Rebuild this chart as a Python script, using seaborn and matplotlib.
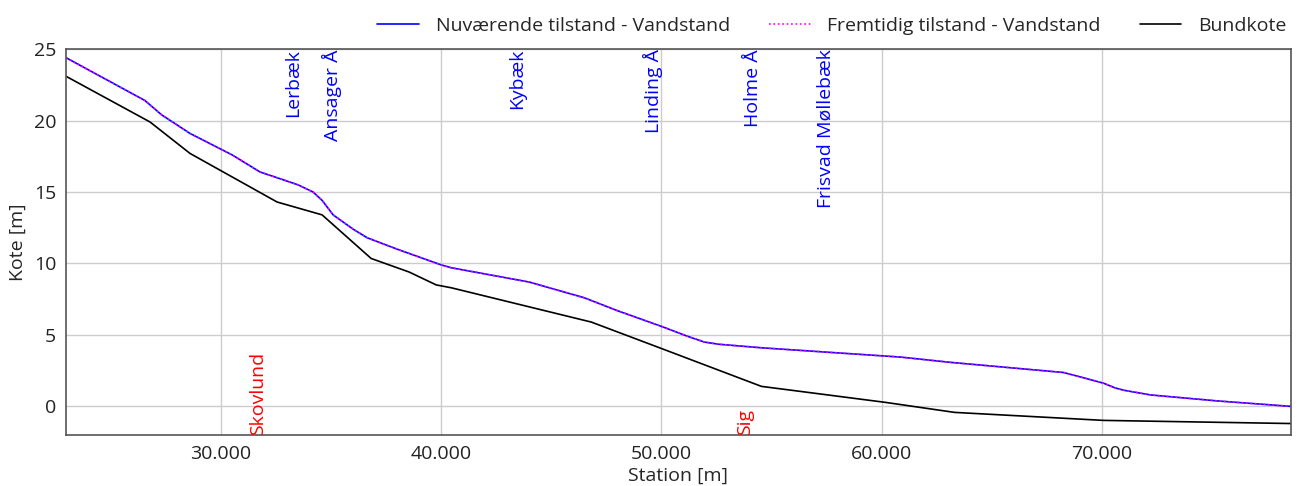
import numpy as np
import pandas as pd
import seaborn as sns
import matplotlib
matplotlib.use("Agg")
import matplotlib.pyplot as plt
from matplotlib.ticker import FuncFormatter, MultipleLocator

# ---- data ----
ws_station = [22955, 26545, 27300, 28590, 30500, 31773, 32545, 33500, 34182, 34600,
              35090, 36000, 36636, 38000, 40000, 40455, 44000, 46500, 48000, 50000,
              51200, 51955, 52590, 54545, 60864, 63136, 68273, 69180, 70090, 70600,
              71000, 72227, 75273, 78600]
ws_now = [24.4, 21.4, 20.4, 19.1, 17.6, 16.4, 16.0, 15.5, 15.0, 14.4,
          13.4, 12.4, 11.8, 11.0, 9.9, 9.7, 8.7, 7.6, 6.7, 5.6,
          4.9, 4.5, 4.35, 4.1, 3.45, 3.08, 2.37, 2.0, 1.62, 1.3,
          1.13, 0.8, 0.38, 0.0]
ws_future = [24.4, 21.4, 20.4, 19.1, 17.6, 16.4, 16.0, 15.5, 15.0, 14.4,
             13.4, 12.4, 11.8, 11.0, 9.9, 9.7, 8.7, 7.6, 6.7, 5.6,
             4.9, 4.5, 4.35, 4.1, 3.45, 3.08, 2.37, 2.0, 1.62, 1.3,
             1.13, 0.8, 0.38, 0.0]

bed_station = [22955, 26773, 28590, 32545, 34590, 36818, 38545, 39773, 40455,
               46818, 50090, 54545, 60182, 63318, 70090, 78600]
bed_level = [23.1, 19.9, 17.7, 14.3, 13.4, 10.35, 9.4, 8.5, 8.3,
             5.9, 4.0, 1.4, 0.28, -0.42, -0.98, -1.2]

trib_names = ["Lerbæk", "Ansager Å", "Kybæk", "Linding Å", "Holme Å", "Frisvad Møllebæk"]
trib_station = [33273, 35045, 43455, 49636, 54182, 57455]

town_names = ["Skovlund", "Sig"]
town_station = [31682, 53818]

labels = ["Nuværende tilstand - Vandstand", "Fremtidig tilstand - Vandstand", "Bundkote"]

# ---- plot ----
sns.set_style("whitegrid")
plt.rcParams['font.family'] = ['Open Sans', 'DejaVu Sans']
FS = 14

fig = plt.figure(figsize=(12.98, 4.86), dpi=100)
ax = fig.add_axes([0.0508, 0.105, 0.9438, 0.794])

df_now = pd.DataFrame({"Station": ws_station, "Kote": ws_now})
df_fut = pd.DataFrame({"Station": ws_station, "Kote": ws_future})
df_bed = pd.DataFrame({"Station": bed_station, "Kote": bed_level})

sns.lineplot(data=df_now, x="Station", y="Kote", ax=ax, color="blue", lw=1.2,
             label=labels[0], sort=False)
sns.lineplot(data=df_fut, x="Station", y="Kote", ax=ax, color="magenta", lw=1.2,
             linestyle=":", label=labels[1], sort=False)
sns.lineplot(data=df_bed, x="Station", y="Kote", ax=ax, color="black", lw=1.2,
             label=labels[2], sort=False)

ax.set_xlim(min(ws_station), max(ws_station))
ax.set_ylim(-2, 25)
ax.yaxis.set_major_locator(MultipleLocator(5))
ax.xaxis.set_major_locator(MultipleLocator(10000))
ax.xaxis.set_major_formatter(FuncFormatter(lambda v, p: f"{v:,.0f}".replace(",", ".")))
ax.set_xlabel("Station [m]", fontsize=FS, labelpad=3)
ax.set_ylabel("Kote [m]", fontsize=FS, labelpad=5)
ax.tick_params(labelsize=FS, colors="#222222")

ax.grid(True, color="#cccccc", lw=1)
for s in ax.spines.values():
    s.set_color("#555555")
    s.set_linewidth(1.2)

for name, st in zip(trib_names, trib_station):
    ax.text(st, 25, name, rotation=90, ha="center", va="top", color="blue", fontsize=FS)
for name, st in zip(town_names, town_station):
    ax.text(st, -2, name, rotation=90, ha="center", va="bottom", color="red", fontsize=FS)

ax.legend(loc="upper right", bbox_to_anchor=(1.0, 0.99), bbox_transform=fig.transFigure,
          ncol=3, frameon=False, fontsize=FS, handlelength=2.15, columnspacing=2.0,
          handletextpad=0.85, borderaxespad=0.2)

fig.savefig("out.png", dpi=100)
